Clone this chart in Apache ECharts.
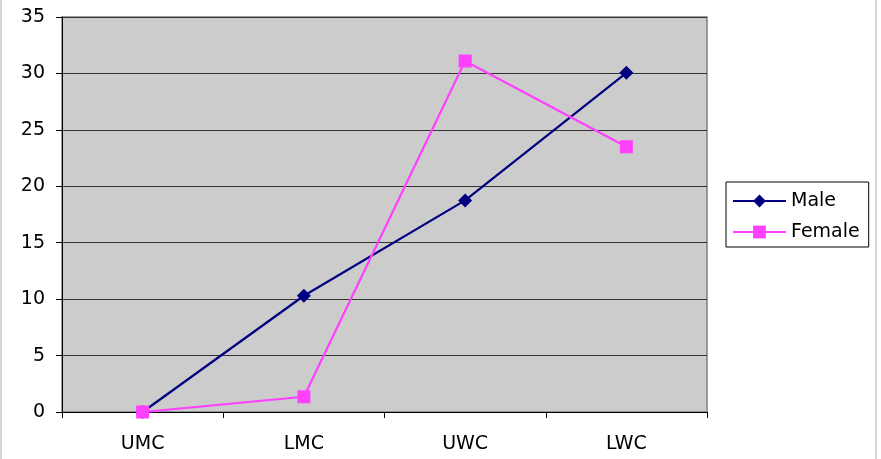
<!DOCTYPE html>
<html><head><meta charset="utf-8">
<script src="https://cdn.jsdelivr.net/npm/echarts@6/dist/echarts.min.js"></script>
<style>html,body{margin:0;padding:0;background:#fff}#c{width:881px;height:459px}</style>
</head><body><div id="c"></div>
<script>
const categories = ['UMC', 'LMC', 'UWC', 'LWC'];
const maleValues = [0, 10.3, 18.75, 30.05];
const femaleValues = [0, 1.35, 31.1, 23.5];
const yTicks = [0, 5, 10, 15, 20, 25, 30, 35];

const chart = echarts.init(document.getElementById('c'));
const font = 'DejaVu Sans, Verdana, sans-serif';
chart.setOption({
  animation: false,
  backgroundColor: '#fff',
  graphic: [{type:'rect', shape:{x:1, y:-2, width:875, height:462}, style:{fill:'none', stroke:'#d4d4d4', lineWidth:2}, silent:true}],
  grid: {left: 62, top: 17, width: 645, height: 395, show: true, backgroundColor: '#cccccc', borderColor: '#808080', borderWidth: 1.5},
  legend: {
    orient: 'vertical', left: 726, top: 182,
    borderColor: '#000', borderWidth: 1, padding: [9, 9, 5, 6],
    itemWidth: 53, itemHeight: 16, itemGap: 11,
    textStyle: {fontFamily: font, fontSize: 19, lineHeight: 20, color: '#000'},
    data: ['Male', 'Female']
  },
  xAxis: {
    type: 'category', data: categories, boundaryGap: true,
    axisLine: {lineStyle: {color: '#000', width: 1}},
    axisTick: {show: true, length: 6, interval: 0, lineStyle: {color: '#000'}},
    axisLabel: {fontFamily: font, fontSize: 19, color: '#000', margin: 23}
  },
  yAxis: {
    type: 'value', min: yTicks[0], max: yTicks[yTicks.length-1], interval: 5,
    axisLine: {show: true, lineStyle: {color: '#000', width: 1}},
    axisTick: {show: true, length: 6, lineStyle: {color: '#000'}},
    axisLabel: {fontFamily: font, fontSize: 19, color: '#000', margin: 17},
    splitLine: {show: true, lineStyle: {color: '#333', width: 1.2}}
  },
  series: [
    {name: 'Male', type: 'line', data: maleValues, symbol: 'diamond', symbolSize: 14,
     itemStyle: {color: '#000080'}, lineStyle: {color: '#000080', width: 2.2}},
    {name: 'Female', type: 'line', data: femaleValues, symbol: 'rect', symbolSize: 13,
     itemStyle: {color: '#ff40ff'}, lineStyle: {color: '#ff40ff', width: 2.2}}
  ]
});
</script></body></html>
